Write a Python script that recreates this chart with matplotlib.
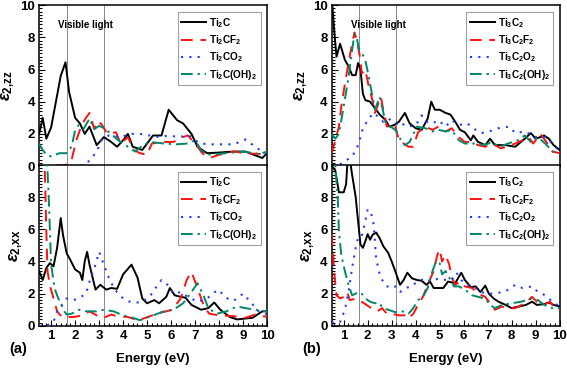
import matplotlib
matplotlib.use("Agg")
import matplotlib.pyplot as plt
from matplotlib.ticker import MultipleLocator

plt.rcParams['font.family'] = ['Liberation Sans', 'DejaVu Sans']
plt.rcParams['font.weight'] = 'bold'
plt.rcParams['mathtext.fontset'] = 'custom'
plt.rcParams['mathtext.rm'] = 'Liberation Sans:bold'
plt.rcParams['mathtext.bf'] = 'Liberation Sans:bold'
plt.rcParams['mathtext.it'] = 'Liberation Sans:italic:bold'

# ---------------- data (a) Ti2C family ----------------
# zz component
ti2c_zz_x = [0.5, 0.65, 0.8, 1.0, 1.2, 1.4, 1.6, 1.75, 2.0, 2.2, 2.4, 2.6, 2.9, 3.2, 3.5, 3.75, 4.0, 4.2, 4.4, 4.8,
             5.25, 5.6, 5.9, 6.25, 6.5, 6.85, 7.1, 7.5, 7.9, 8.6, 9.1, 9.8, 10.0]
ti2c_zz_y = [2.0, 3.0, 1.7, 2.4, 4.0, 5.6, 6.45, 4.6, 3.0, 2.65, 2.0, 2.45, 1.3, 1.8, 1.5, 1.2, 1.6, 2.0, 1.2, 1.0,
             1.9, 1.9, 3.5, 2.85, 2.65, 2.0, 1.2, 0.8, 0.83, 0.9, 0.9, 0.5, 0.8]
ti2cf2_zz_x = [0.5, 0.6, 0.7, 0.9, 1.2, 1.5, 1.7, 1.85, 2.05, 2.25, 2.45, 2.6, 2.8, 2.95, 3.1, 3.35, 3.7, 3.9, 4.2, 4.45,
               4.7, 5.0, 5.2, 5.7, 6.1, 6.5, 6.7, 7.0, 7.3, 7.6, 8.0, 8.6, 9.1, 9.7, 10.0]
ti2cf2_zz_y = [0.0, -0.2, 0.0, 0.0, 0.05, 0.05, 0.1, 0.37, 1.6, 2.45, 3.0, 3.3, 2.3, 2.8, 2.6, 2.0, 2.1, 1.4, 1.8, 1.0,
               0.8, 0.7, 1.4, 1.5, 1.5, 1.8, 1.9, 1.4, 0.8, 0.5, 0.7, 0.9, 0.8, 0.75, 0.8]
ti2co2_zz_x = [0.5, 1.0, 1.5, 2.0, 2.4, 2.6, 2.9, 3.1, 3.4, 3.9, 4.3, 4.7, 5.1, 5.5, 5.9, 6.3, 6.75, 7.2, 7.7, 8.6,
               9.1, 9.5, 9.9, 10.0]
ti2co2_zz_y = [0.0, 0.0, 0.0, 0.02, 0.05, 0.35, 0.9, 1.6, 1.9, 1.8, 2.0, 2.0, 1.9, 1.8, 1.9, 1.8, 1.9, 1.4, 1.35, 1.35,
               1.65, 1.2, 0.8, 0.8]
ti2coh2_zz_x = [0.5, 0.6, 0.8, 1.0, 1.35, 1.65, 1.85, 2.0, 2.15, 2.35, 2.6, 2.8, 3.0, 3.2, 3.5, 3.8, 4.2, 4.5, 4.75,
                5.1, 5.7, 6.2, 6.7, 7.0, 7.25, 7.5, 8.3, 9.0, 9.7, 10.0]
ti2coh2_zz_y = [1.4, 1.1, 0.7, 0.6, 0.8, 0.8, 1.2, 2.2, 2.55, 2.3, 2.95, 2.3, 2.5, 2.35, 2.0, 1.6, 1.2, 0.9, 1.2,
                1.5, 1.4, 1.35, 1.4, 1.6, 1.0, 0.7, 0.8, 0.9, 0.75, 0.9]

# xx component
ti2c_xx_x = [0.5, 0.65, 0.8, 0.95, 1.1, 1.25, 1.4, 1.5, 1.65, 1.8, 2.0, 2.2, 2.3, 2.4, 2.5, 2.6, 2.85, 3.05, 3.3,
             3.5, 3.75, 4.0, 4.35, 4.6, 4.8, 5.0, 5.3, 5.5, 5.8, 5.95, 6.15, 6.4, 6.6, 6.85, 7.25, 7.55, 7.8, 8.05,
             8.45, 8.75, 9.4, 9.8, 10.0]
ti2c_xx_y = [3.4, 2.85, 3.6, 3.9, 3.7, 4.85, 6.7, 5.6, 4.5, 4.1, 3.5, 3.3, 2.85, 4.0, 4.6, 3.8, 2.25, 2.55, 2.25,
             2.35, 2.3, 3.2, 3.8, 3.0, 1.7, 1.4, 1.6, 1.4, 1.8, 2.35, 1.9, 1.8, 1.75, 1.3, 1.0, 1.1, 1.45, 1.0,
             0.55, 0.4, 0.5, 0.9, 0.9]
ti2cf2_xx_x = [0.5, 0.7, 0.75, 0.8, 0.85, 0.95, 1.1, 1.25, 1.45, 1.65, 1.95, 2.3, 2.6, 2.9, 3.2, 3.5, 3.75, 4.2, 4.6,
               4.75, 5.4, 5.8, 6.05, 6.4, 6.65, 6.85, 7.05, 7.4, 7.6, 8.0, 8.6, 9.1, 9.5, 10.0]
ti2cf2_xx_y = [12.0, 11.0, 9.0, 5.9, 3.4, 2.5, 1.7, 0.9, 0.55, 0.55, 0.55, 0.65, 0.9, 0.65, 0.5, 0.7, 0.6, 0.55, 0.35,
               0.4, 0.75, 0.9, 1.0, 1.7, 2.85, 3.35, 2.55, 1.1, 0.75, 0.65, 0.6, 0.5, 0.7, 0.55]
ti2co2_xx_x = [0.5, 0.8, 1.1, 1.25, 1.45, 1.65, 1.95, 2.25, 2.45, 2.6, 2.85, 3.0, 3.2, 3.4, 3.65, 4.0, 4.35, 4.75,
               5.1, 5.4, 5.6, 5.85, 6.1, 6.4, 6.7, 7.1, 7.5, 7.95, 8.35, 8.6, 9.0, 9.3, 9.65, 10.0]
ti2co2_xx_y = [0.0, 0.0, 0.25, 0.9, 1.3, 1.7, 1.6, 1.8, 2.0, 2.75, 3.8, 4.6, 3.8, 3.0, 2.25, 1.7, 1.45, 1.45,
               1.8, 2.45, 2.85, 2.55, 2.0, 2.1, 1.8, 1.5, 1.7, 2.25, 1.7, 1.55, 2.0, 1.5, 0.9, 0.7]
ti2coh2_xx_x = [0.5, 0.75, 0.85, 0.9, 1.0, 1.15, 1.3, 1.55, 1.65, 1.85, 2.15, 2.5, 2.9, 3.2, 3.6, 4.0, 4.4, 4.7,
                5.25, 5.7, 6.1, 6.5, 6.85, 7.1, 7.35, 7.55, 7.9, 8.3, 8.75, 9.1, 9.5, 10.0]
ti2coh2_xx_y = [14.0, 11.0, 9.6, 8.0, 3.8, 2.3, 1.7, 0.9, 0.7, 0.75, 1.0, 0.9, 0.9, 1.0, 0.9, 0.65, 0.5, 0.35,
                0.65, 0.9, 1.0, 1.4, 2.1, 2.65, 1.9, 1.1, 0.75, 0.9, 1.2, 1.1, 1.0, 0.9]

# ---------------- data (b) Ti3C2 family ----------------
ti3c2_zz_x = [0.5, 0.6, 0.7, 0.85, 1.05, 1.2, 1.35, 1.5, 1.6, 1.7, 1.8, 1.9, 2.1, 2.3, 2.5, 2.75, 2.9, 3.1, 3.3,
              3.55, 3.75, 4.0, 4.25, 4.5, 4.65, 4.8, 5.0, 5.25, 5.45, 5.65, 5.85, 6.05, 6.3, 6.4, 6.6, 6.9, 7.1,
              7.3, 7.75, 8.15, 8.55, 8.8, 9.0, 9.2, 9.35, 9.55, 9.75, 10.0]
ti3c2_zz_y = [10.5, 8.5, 6.8, 7.6, 6.6, 6.2, 5.65, 5.65, 6.4, 6.0, 4.5, 4.1, 4.0, 3.6, 3.2, 2.85, 2.45, 2.55, 2.75,
              3.3, 2.65, 2.35, 2.25, 2.95, 4.0, 3.5, 3.5, 3.3, 3.2, 2.75, 2.25, 2.1, 1.6, 1.9, 1.5, 1.3, 1.7,
              1.3, 1.3, 1.2, 1.7, 2.05, 1.7, 1.8, 1.9, 1.7, 1.3, 1.0]
ti3c2f2_zz_x = [0.5, 0.65, 0.8, 0.9, 1.05, 1.2, 1.35, 1.45, 1.55, 1.7, 1.75, 1.9, 2.05, 2.2, 2.3, 2.45, 2.55, 2.65,
                2.8, 2.95, 3.15, 3.3, 3.5, 3.7, 3.9, 4.1, 4.4, 4.7, 4.95, 5.25, 5.5, 5.8, 6.05, 6.35, 6.6, 6.9,
                7.2, 7.55, 7.8, 8.15, 8.45, 8.7, 8.9, 9.2, 9.4, 9.7, 10.0]
ti3c2f2_zz_y = [0.8, 1.6, 2.45, 3.7, 5.1, 6.4, 7.6, 8.3, 7.8, 6.6, 5.75, 6.0, 4.9, 4.1, 3.3, 3.9, 4.3, 3.5,
                2.45, 2.65, 2.45, 1.6, 1.4, 1.2, 1.2, 2.1, 2.45, 2.25, 2.45, 2.15, 2.35, 1.8, 1.5, 1.5, 1.3, 1.2,
                1.4, 1.1, 1.2, 1.4, 1.6, 1.8, 1.4, 2.0, 1.6, 0.9, 0.8]
ti3c2o2_zz_x = [0.5, 0.9, 1.1, 1.35, 1.55, 1.7, 1.8, 2.05, 2.25, 2.45, 2.65, 2.85, 3.1, 3.35, 3.55, 3.85, 4.05,
                4.25, 4.45, 4.7, 4.95, 5.25, 5.5, 5.8, 6.15, 6.5, 6.75, 7.05, 7.45, 7.9, 8.15, 8.55, 9.0, 9.4,
                9.7, 10.0]
ti3c2o2_zz_y = [0.0, 0.15, 0.35, 0.6, 1.1, 1.8, 2.35, 2.95, 3.3, 3.05, 2.75, 2.95, 2.75, 2.45, 2.65, 2.45, 2.65,
                3.15, 2.75, 2.65, 2.85, 2.45, 2.85, 2.55, 2.65, 2.25, 2.05, 2.15, 2.35, 2.45, 2.05, 2.15, 1.8,
                1.8, 1.4, 0.9]
ti3c2oh2_zz_x = [0.5, 0.65, 0.8, 1.0, 1.2, 1.35, 1.45, 1.55, 1.65, 1.8, 1.9, 2.05, 2.2, 2.3, 2.5, 2.6, 2.75, 2.95,
                 3.15, 3.35, 3.55, 3.75, 4.05, 4.4, 4.7, 4.95, 5.25, 5.5, 5.8, 6.05, 6.45, 6.9, 7.15, 7.5, 7.85,
                 8.25, 8.55, 8.8, 9.1, 9.4, 9.7, 10.0]
ti3c2oh2_zz_y = [2.0, 1.7, 2.0, 3.7, 5.5, 7.2, 8.2, 7.9, 7.2, 6.9, 6.6, 5.5, 4.3, 3.5, 4.3, 3.7, 2.65, 2.45,
                 2.25, 1.7, 1.3, 1.5, 2.45, 2.35, 2.15, 2.25, 2.15, 2.25, 1.6, 1.4, 1.4, 1.3, 1.5, 1.2, 1.4,
                 1.6, 1.9, 1.5, 1.8, 1.4, 0.9, 0.9]

ti3c2_xx_x = [0.5, 0.65, 0.8, 1.0, 1.1, 1.15, 1.25, 1.35, 1.5, 1.6, 1.7, 1.8, 1.9, 2.0, 2.1, 2.2, 2.35, 2.5, 2.65,
              2.85, 3.0, 3.15, 3.3, 3.35, 3.5, 3.65, 3.85, 4.05, 4.25, 4.45, 4.6, 4.75, 4.95, 5.15, 5.35, 5.65,
              5.8, 5.9, 6.05, 6.3, 6.5, 6.7, 6.9, 7.05, 7.25, 7.45, 7.75, 8.0, 8.3, 8.6, 8.85, 9.05, 9.35,
              9.55, 9.75, 10.0]
ti3c2_xx_y = [9.95, 9.65, 8.3, 8.3, 8.8, 10.0, 10.4, 9.4, 8.0, 6.5, 5.05, 4.85, 5.25, 5.7, 5.35, 5.65, 5.8, 5.45,
              4.95, 4.55, 4.0, 3.4, 2.75, 2.55, 2.85, 3.3, 2.95, 2.85, 2.8, 2.55, 2.75, 2.35, 2.35, 2.35, 2.75,
              2.65, 3.05, 3.3, 2.85, 2.4, 2.45, 2.1, 2.5, 2.0, 1.7, 1.5, 1.3, 1.1, 1.2, 1.3, 1.5, 1.3, 1.35,
              1.45, 1.3, 1.2]
ti3c2f2_xx_x = [0.5, 0.6, 0.7, 0.85, 1.0, 1.15, 1.25, 1.55, 1.75, 1.95, 2.15, 2.4, 2.6, 2.8, 3.0, 3.3, 3.55, 3.7,
                3.9, 4.1, 4.3, 4.5, 4.75, 4.9, 5.0, 5.1, 5.25, 5.4, 5.5, 5.65, 5.85, 6.05, 6.35, 6.6, 6.9, 7.1,
                7.3, 7.6, 7.85, 8.15, 8.55, 8.85, 9.05, 9.35, 9.6, 9.85, 10.0]
ti3c2f2_xx_y = [5.7, 3.4, 1.9, 1.7, 1.8, 2.1, 1.6, 1.7, 1.5, 1.3, 1.1, 0.9, 1.1, 0.75, 0.75, 0.65, 0.65, 0.45,
                0.75, 1.3, 1.8, 2.55, 3.4, 4.4, 4.75, 4.0, 4.4, 3.8, 3.0, 2.55, 2.75, 2.45, 2.35, 2.0, 1.8, 1.4,
                1.0, 1.2, 1.1, 1.1, 1.4, 1.8, 1.5, 1.3, 1.5, 1.0, 1.0]
ti3c2o2_xx_x = [0.5, 0.65, 0.85, 1.05, 1.2, 1.35, 1.5, 1.6, 1.75, 1.9, 2.0, 2.15, 2.25, 2.35, 2.5, 2.7, 2.95,
                3.15, 3.35, 3.55, 3.85, 4.05, 4.25, 4.45, 4.65, 4.95, 5.25, 5.5, 5.7, 5.9, 6.1, 6.4, 6.7, 7.05,
                7.3, 7.75, 8.15, 8.45, 8.85, 9.1, 9.4, 9.7, 10.0]
ti3c2o2_xx_y = [0.25, 0.15, 0.25, 1.0, 2.1, 3.6, 4.85, 5.5, 5.55, 6.5, 7.25, 6.95, 6.3, 4.2, 3.2, 2.55, 2.35,
                2.45, 2.1, 2.35, 2.45, 2.75, 2.85, 2.95, 2.75, 2.95, 2.85, 2.85, 3.3, 2.85, 2.55, 2.45, 2.1, 2.0,
                2.0, 2.15, 2.55, 2.35, 2.45, 2.1, 1.9, 1.5, 1.2]
ti3c2oh2_xx_x = [0.5, 0.65, 0.75, 0.8, 0.9, 1.05, 1.2, 1.35, 1.5, 1.6, 1.75, 1.9, 2.1, 2.3, 2.45, 2.65, 2.85,
                 3.15, 3.45, 3.7, 3.9, 4.1, 4.3, 4.5, 4.7, 4.85, 5.0, 5.1, 5.25, 5.4, 5.6, 5.8, 6.05, 6.35, 6.6,
                 6.9, 7.1, 7.3, 7.6, 8.0, 8.4, 8.85, 9.1, 9.35, 9.7, 10.0]
ti3c2oh2_xx_y = [11.0, 10.0, 8.0, 5.9, 4.4, 3.4, 2.55, 1.9, 2.0, 2.1, 2.0, 1.7, 1.5, 1.4, 1.45, 1.1, 1.0,
                 0.85, 0.9, 0.75, 1.1, 1.6, 1.8, 2.35, 3.4, 4.0, 3.9, 3.2, 3.4, 3.0, 2.45, 2.45, 2.25, 1.9, 1.8,
                 1.7, 1.3, 1.1, 1.3, 1.4, 1.5, 1.7, 1.6, 1.3, 1.1, 1.1]

labels_a = [r'Ti$_2$C', r'Ti$_2$CF$_2$', r'Ti$_2$CO$_2$', r'Ti$_2$C(OH)$_2$']
labels_b = [r'Ti$_3$C$_2$', r'Ti$_3$C$_2$F$_2$', r'Ti$_3$C$_2$O$_2$', r'Ti$_3$C$_2$(OH)$_2$']
visible_edges = [1.65, 3.2]

styles = [dict(color='black', lw=1.4, ls='-'),
          dict(color='#FF1010', lw=1.4, ls=(0, (6, 4))),
          dict(color='#1E3CFF', lw=1.5, ls=(0, (1, 3))),
          dict(color='#00876A', lw=1.4, ls=(0, (6, 2.5, 1.2, 2.5)))]

fig = plt.figure(figsize=(5.67, 3.69), dpi=100)

L = [0.069, 0.585]
W = 0.402
B_top, B_bot, H = 0.550, 0.117, 0.436

panels = {
    'a': ([(ti2c_zz_x, ti2c_zz_y), (ti2cf2_zz_x, ti2cf2_zz_y), (ti2co2_zz_x, ti2co2_zz_y), (ti2coh2_zz_x, ti2coh2_zz_y)],
          [(ti2c_xx_x, ti2c_xx_y), (ti2cf2_xx_x, ti2cf2_xx_y), (ti2co2_xx_x, ti2co2_xx_y), (ti2coh2_xx_x, ti2coh2_xx_y)],
          labels_a),
    'b': ([(ti3c2_zz_x, ti3c2_zz_y), (ti3c2f2_zz_x, ti3c2f2_zz_y), (ti3c2o2_zz_x, ti3c2o2_zz_y), (ti3c2oh2_zz_x, ti3c2oh2_zz_y)],
          [(ti3c2_xx_x, ti3c2_xx_y), (ti3c2f2_xx_x, ti3c2f2_xx_y), (ti3c2o2_xx_x, ti3c2o2_xx_y), (ti3c2oh2_xx_x, ti3c2oh2_xx_y)],
          labels_b),
}

def style_axis(ax, show_x):
    ax.set_xlim(0.5, 10)
    ax.set_ylim(0, 10)
    ax.xaxis.set_major_locator(MultipleLocator(1))
    ax.xaxis.set_minor_locator(MultipleLocator(0.2))
    ax.yaxis.set_major_locator(MultipleLocator(2))
    ax.yaxis.set_minor_locator(MultipleLocator(0.2))
    ax.tick_params(which='both', direction='in', labelsize=9.5, width=0.8, pad=3)
    ax.tick_params(which='major', length=4)
    ax.tick_params(which='minor', length=2)
    if not show_x:
        ax.tick_params(axis='x', which='both', length=0, labelbottom=False)
    for s in ax.spines.values():
        s.set_linewidth(1.1)
    for lab in ax.get_xticklabels() + ax.get_yticklabels():
        lab.set_fontweight('bold')

for i, key in enumerate(['a', 'b']):
    zz, xx, labels = panels[key]
    ax_t = fig.add_axes([L[i], B_top, W, H])
    ax_b = fig.add_axes([L[i], B_bot, W, H])
    for ax, data in ((ax_t, zz), (ax_b, xx)):
        for v in visible_edges:
            ax.axvline(v, color='#8a8a8a', lw=0.7, zorder=1)
        for (x, y), st, lab in zip(data, styles, labels):
            ax.plot(x, y, label=lab, zorder=3, **st)
        leg = ax.legend(loc='upper right', bbox_to_anchor=(0.972, 0.955), fontsize=7.2, frameon=True,
                        fancybox=False, edgecolor='#888888', handlelength=2.5, handletextpad=0.3,
                        borderpad=0.35, labelspacing=0.35, borderaxespad=0)
        leg.get_frame().set_linewidth(0.8)
        for t in leg.get_texts():
            t.set_fontweight('bold')
    style_axis(ax_t, False)
    style_axis(ax_b, True)
    ax_b.set_yticks([0, 2, 4, 6, 8])
    for lab in ax_b.get_yticklabels():
        lab.set_fontweight('bold')
    ax_t.set_ylabel(r'$\varepsilon_{\mathbf{2{,}zz}}$', fontsize=12, labelpad=2)
    ax_b.set_ylabel(r'$\varepsilon_{\mathbf{2{,}xx}}$', fontsize=12, labelpad=2)
    ax_b.set_xlabel('Energy (eV)', fontsize=9.5, fontweight='bold', labelpad=8)
    ax_t.text(2.45, 8.45, 'Visible light', ha='center', va='bottom', fontsize=7, fontweight='bold')
    fig.text(L[i] - 0.052, 0.055, '(%s)' % key, fontsize=10.5, fontweight='bold', ha='left', va='center')

fig.savefig('out.png', dpi=100)
